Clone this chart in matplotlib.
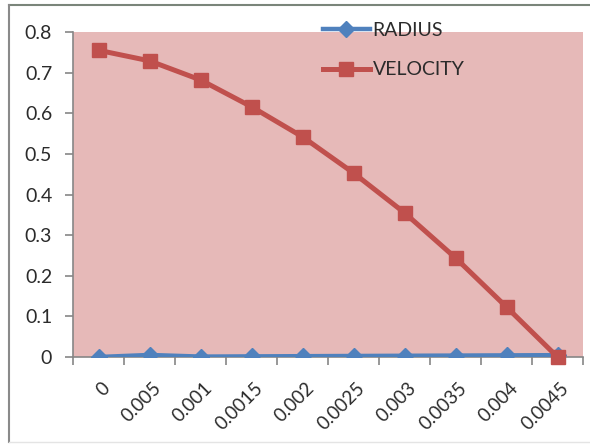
import matplotlib.pyplot as plt
import matplotlib.transforms as mtransforms
import numpy as np

W, H = 590, 447

# radius positions used as categories, and the two series plotted over them
categories = ['0', '0.005', '0.001', '0.0015', '0.002', '0.0025', '0.003', '0.0035', '0.004', '0.0045']
radius = [0, 0.005, 0.001, 0.0015, 0.002, 0.0025, 0.003, 0.0035, 0.004, 0.0045]
velocity = [0.755, 0.729, 0.682, 0.616, 0.542, 0.453, 0.355, 0.244, 0.123, 0.0]

blue = '#4F81BD'
red = '#C0504D'
pink = '#E6B9B8'
text_col = '#2b2b2b'

plt.rcParams['font.family'] = ['Lato', 'DejaVu Sans']

fig = plt.figure(figsize=(W / 100, H / 100), dpi=100)
ax = fig.add_axes([73 / W, (H - 357) / H, 510 / W, (357 - 32) / H])
ax.set_facecolor(pink)

x = np.arange(len(categories))
ax.plot(x, radius, color=blue, lw=3.2, marker='D', ms=8.5, label='RADIUS', zorder=3)
ax.plot(x, velocity, color=red, lw=3.6, marker='s', ms=10.5, label='VELOCITY', zorder=4,
        clip_on=False)

ax.set_xlim(-0.5, len(categories) - 0.5)
ax.set_ylim(0, 0.8)
ax.set_yticks(np.arange(0, 0.81, 0.1))
ax.set_yticklabels(['0'] + [f'{v:.1f}' for v in np.arange(0.1, 0.81, 0.1)])

ax.set_xticks(x)
ax.set_xticklabels(categories, rotation=45, ha='right', va='top', rotation_mode='anchor')
ax.set_xticks(np.arange(-0.5, len(categories)), minor=True)
ax.tick_params(axis='x', which='major', length=0, pad=16, labelsize=13.5, labelcolor=text_col)
ax.tick_params(axis='x', which='minor', length=6, color='#868686', width=1.2)
ax.tick_params(axis='y', length=6, color='#868686', width=1.2, pad=9, labelsize=14,
               labelcolor=text_col)

for side in ['top', 'right']:
    ax.spines[side].set_visible(False)
for side in ['left', 'bottom']:
    ax.spines[side].set_color('#868686')
    ax.spines[side].set_linewidth(1.2)

# nudge x labels right so they sit under their category
offset = mtransforms.ScaledTranslation(3 / 100, 0, fig.dpi_scale_trans)
for lab in ax.get_xticklabels():
    lab.set_transform(lab.get_transform() + offset)

leg = ax.legend(loc='upper left', bbox_to_anchor=(323 / W, 1 - 22 / H),
                bbox_transform=fig.transFigure, frameon=False, fontsize=14,
                handlelength=2.4, handletextpad=0.15, labelspacing=1.15,
                borderpad=0, borderaxespad=0)
for t in leg.get_texts():
    t.set_color(text_col)

# chart border
fig.add_artist(plt.Line2D([9 / W, 1], [1 - 5 / H, 1 - 5 / H], color='#7a857a', lw=1.5))
fig.add_artist(plt.Line2D([9 / W, 9 / W], [1 - 5 / H, 1 - 442 / H], color='#8a8a8a', lw=1.5))
fig.add_artist(plt.Line2D([9 / W, 1], [1 - 442 / H, 1 - 442 / H], color='#e4e4e4', lw=1))

fig.savefig('out.png', dpi=100)
